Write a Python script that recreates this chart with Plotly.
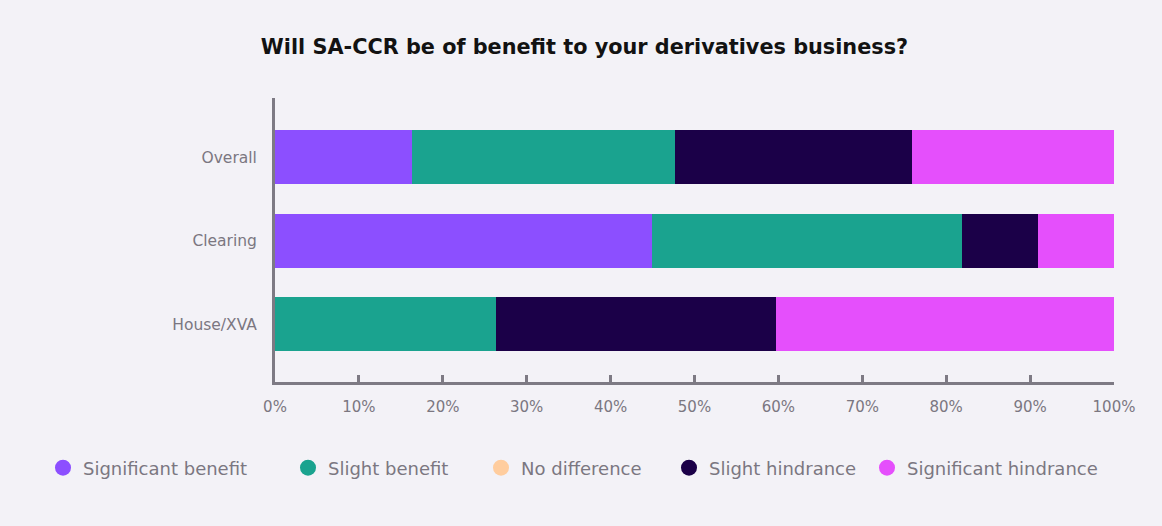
import plotly.graph_objects as go

# --- data ---
categories = ["Overall", "Clearing", "House/XVA"]
responses = ["Significant benefit", "Slight benefit", "No difference",
             "Slight hindrance", "Significant hindrance"]
significant_benefit = [16.3, 44.9, 0.0]
slight_benefit = [31.4, 37.0, 26.3]
no_difference = [0.0, 0.0, 0.0]
slight_hindrance = [28.2, 9.0, 33.4]
significant_hindrance = [24.1, 9.1, 40.3]

values = [significant_benefit, slight_benefit, no_difference,
          slight_hindrance, significant_hindrance]
colors = ["#8c4fff", "#1aa38f", "#ffcd9e", "#1b0048", "#e54ffc"]

AXIS_COL = "#7d7a84"
TEXT_COL = "#7b7781"
BG = "#f3f2f7"
FONT = "DejaVu Sans"

# posição (px) do círculo de cada item da legenda
legend_px = [63, 308, 501, 689, 887]

fig = go.Figure()

# barras empilhadas
for name, vals, col in zip(responses, values, colors):
    fig.add_trace(go.Bar(
        y=categories, x=vals, name=name, orientation="h",
        marker=dict(color=col, line=dict(width=0)),
        width=0.645, showlegend=False, hoverinfo="x+name",
    ))

# legenda com círculos, uma legenda por item
legends = {}
for i, (name, col) in enumerate(zip(responses, colors)):
    key = "legend" if i == 0 else f"legend{i + 1}"
    fig.add_trace(go.Scatter(
        x=[None], y=[None], mode="markers", name=name, legend=key,
        marker=dict(color=col, size=22, symbol="circle"),
    ))
    legends[key] = dict(
        xref="container", x=(legend_px[i] - 20) / 1162, xanchor="left",
        yref="container", y=1 - 468 / 526, yanchor="middle",
        font=dict(size=18, color=TEXT_COL), bgcolor="rgba(0,0,0,0)",
        itemwidth=30,
    )

fig.update_layout(
    barmode="stack",
    width=1162, height=526,
    paper_bgcolor=BG, plot_bgcolor=BG,
    margin=dict(l=275, r=48, t=98, b=144, autoexpand=False),
    font=dict(family=FONT, color=TEXT_COL, size=15),
    title=dict(
        text="Will SA-CCR be of benefit to your derivatives business?",
        x=0.503, xref="container", xanchor="center",
        y=1 - 47 / 526, yref="container", yanchor="middle",
        font=dict(family=FONT, size=20.8, color="#121212", weight="bold"),
    ),
    xaxis=dict(
        range=[0, 100], tickvals=list(range(0, 101, 10)),
        ticktext=[f"{v}%" for v in range(0, 101, 10)],
        showgrid=False, zeroline=False,
        showline=True, linecolor=AXIS_COL, linewidth=3,
        ticks="inside", ticklen=7, tickwidth=3, tickcolor=AXIS_COL,
        ticklabelstandoff=9,
        tickfont=dict(size=15, color=TEXT_COL),
    ),
    yaxis=dict(
        categoryorder="array", categoryarray=categories,
        range=[2.69, -0.71],
        showgrid=False, zeroline=False,
        showline=True, linecolor=AXIS_COL, linewidth=3,
        ticks="", ticklabelstandoff=12,
        tickfont=dict(size=15.5, color=TEXT_COL),
    ),
    **legends,
)

fig.write_html("out.html", config={"displayModeBar": False},
               post_script="document.body.style.margin='0';")
